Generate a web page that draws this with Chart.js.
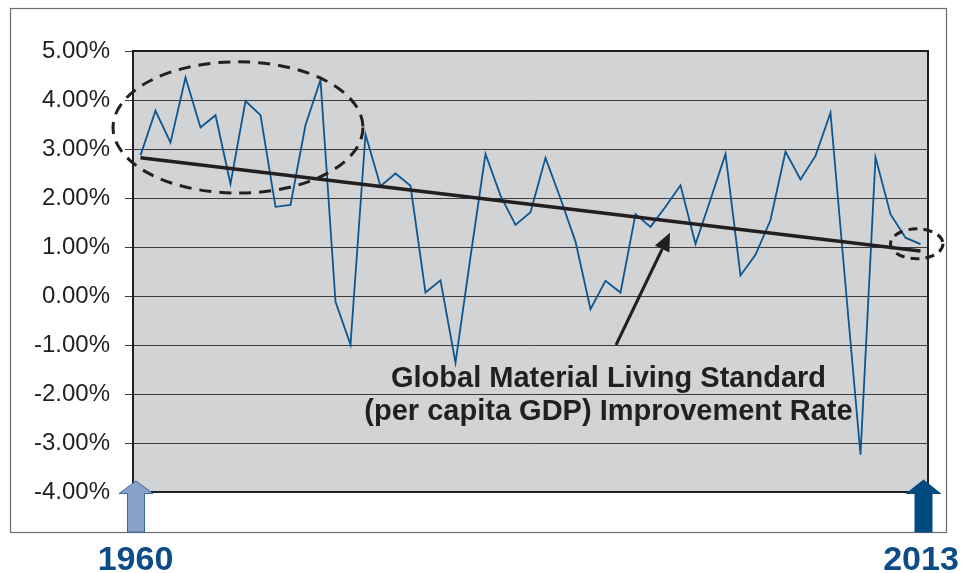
<!DOCTYPE html>
<html>
<head>
<meta charset="utf-8">
<script src="https://cdn.jsdelivr.net/npm/chart.js@4.4.0/dist/chart.umd.min.js"></script>
<style>
  html, body { margin: 0; padding: 0; background: #fff; }
  #wrap { width: 961px; height: 573px; position: relative; }
  canvas { display: block; }
</style>
</head>
<body>
<div id="wrap"><canvas id="growthChart" width="961" height="573"></canvas></div>
<script>
const years = [
  1961, 1962, 1963, 1964, 1965, 1966, 1967, 1968, 1969, 1970,
  1971, 1972, 1973, 1974, 1975, 1976, 1977, 1978, 1979, 1980,
  1981, 1982, 1983, 1984, 1985, 1986, 1987, 1988, 1989, 1990,
  1991, 1992, 1993, 1994, 1995, 1996, 1997, 1998, 1999, 2000,
  2001, 2002, 2003, 2004, 2005, 2006, 2007, 2008, 2009, 2010,
  2011, 2012, 2013
];

// world per capita GDP growth, %
const growth = [
  2.87, 3.78, 3.13, 4.46, 3.44, 3.69, 2.29, 3.98, 3.69, 1.82,
  1.86, 3.49, 4.41, -0.12, -0.99, 3.30, 2.24, 2.50, 2.25, 0.07,
  0.32, -1.36, 0.80, 2.90, 2.05, 1.45, 1.71, 2.82, 1.99, 1.11,
  -0.27, 0.31, 0.07, 1.67, 1.41, 1.82, 2.26, 1.06, 1.97, 2.90,
  0.42, 0.84, 1.55, 2.95, 2.38, 2.86, 3.74, 0.22, -3.24, 2.83,
  1.67, 1.19, 1.06
];

// long-run trend, first and last year
const trendStart = 2.82;
const trendEnd = 0.92;
const trend = years.map((y, i) => i === 0 ? trendStart : (i === years.length - 1 ? trendEnd : null));

const yTicks = [5, 4, 3, 2, 1, 0, -1, -2, -3, -4];

const captionLines = ['Global Material Living Standard', '(per capita GDP) Improvement Rate'];
const startLabel = '1960';
const endLabel = '2013';

const ink = '#231f20';
const FONT = "'Liberation Sans', Arial, sans-serif";

const plotBackground = {
  id: 'plotBackground',
  beforeDraw(chart) {
    const { ctx, chartArea: a } = chart;
    ctx.save();
    ctx.fillStyle = '#d1d3d4';
    ctx.fillRect(a.left, a.top, a.right - a.left, a.bottom - a.top);
    ctx.restore();
  }
};

function drawEllipse(ctx, xs, ys, box) {
  const l = xs.getPixelForValue(box.x0), r = xs.getPixelForValue(box.x1);
  const t = ys.getPixelForValue(box.y0), b = ys.getPixelForValue(box.y1);
  ctx.beginPath();
  ctx.ellipse((l + r) / 2, (t + b) / 2, (r - l) / 2, (b - t) / 2, 0, 0, Math.PI * 2);
  ctx.stroke();
}

function drawBlockArrow(ctx, cx, tipY, baseY, bottomY, fill, stroke) {
  ctx.beginPath();
  ctx.moveTo(cx, tipY);
  ctx.lineTo(cx + 17, baseY);
  ctx.lineTo(cx + 8.5, baseY);
  ctx.lineTo(cx + 8.5, bottomY);
  ctx.lineTo(cx - 8.5, bottomY);
  ctx.lineTo(cx - 8.5, baseY);
  ctx.lineTo(cx - 17, baseY);
  ctx.closePath();
  ctx.fillStyle = fill;
  ctx.fill();
  ctx.lineWidth = 1;
  ctx.strokeStyle = stroke;
  ctx.stroke();
}

const annotations = {
  id: 'annotations',
  afterDraw(chart) {
    const { ctx, chartArea: a } = chart;
    const xs = chart.scales.x, ys = chart.scales.y;
    ctx.save();

    // plot frame
    ctx.strokeStyle = ink;
    ctx.lineWidth = 2;
    ctx.strokeRect(a.left, a.top, a.right - a.left, a.bottom - a.top);

    // outer frame
    ctx.strokeStyle = '#6d6e71';
    ctx.lineWidth = 1.2;
    ctx.strokeRect(10.5, 8.5, 936, 524);

    // dashed rings around the early years and the latest years
    ctx.strokeStyle = ink;
    ctx.lineWidth = 3;
    ctx.setLineDash([12, 8]);
    drawEllipse(ctx, xs, ys, { x0: -1.83, x1: 14.83, y0: 4.78, y1: 2.10 });
    ctx.setLineDash([9, 6]);
    drawEllipse(ctx, xs, ys, { x0: 50.0, x1: 53.5, y0: 1.37, y1: 0.76 });
    ctx.setLineDash([]);

    // pointer from the caption to the trend line
    const x0 = xs.getPixelForValue(31.7), y0 = ys.getPixelForValue(-1.0);
    const x1 = xs.getPixelForValue(35.3), y1 = ys.getPixelForValue(1.29);
    const ang = Math.atan2(y1 - y0, x1 - x0);
    const head = 18, half = 8;
    const bx = x1 - head * Math.cos(ang), by = y1 - head * Math.sin(ang);
    ctx.beginPath();
    ctx.moveTo(x0, y0);
    ctx.lineTo(bx, by);
    ctx.lineWidth = 3;
    ctx.stroke();
    ctx.beginPath();
    ctx.moveTo(x1, y1);
    ctx.lineTo(bx + half * Math.sin(ang), by - half * Math.cos(ang));
    ctx.lineTo(bx - half * Math.sin(ang), by + half * Math.cos(ang));
    ctx.closePath();
    ctx.fillStyle = ink;
    ctx.fill();

    // caption
    ctx.fillStyle = ink;
    ctx.font = 'bold 29px ' + FONT;
    ctx.textAlign = 'center';
    ctx.textBaseline = 'alphabetic';
    const cx = xs.getPixelForValue(31.2);
    ctx.fillText(captionLines[0], cx, ys.getPixelForValue(-1.86));
    ctx.fillText(captionLines[1], cx, ys.getPixelForValue(-2.53));

    // start / end markers below the axis
    drawBlockArrow(ctx, a.left + 3, a.bottom - 11, a.bottom + 1.5, 532, '#8aa2c8', '#3b6a9e');
    drawBlockArrow(ctx, a.right - 4.5, a.bottom - 12, a.bottom + 1.5, 532, '#004a80', '#004a80');

    ctx.fillStyle = '#0d4c86';
    ctx.font = 'bold 34px ' + FONT;
    ctx.fillText(startLabel, a.left + 2.5, 570);
    ctx.fillText(endLabel, a.right - 7, 570);

    ctx.restore();
  }
};

new Chart(document.getElementById('growthChart'), {
  type: 'line',
  data: {
    labels: years,
    datasets: [
      {
        label: 'Trend',
        data: trend,
        borderColor: ink,
        borderWidth: 3.6,
        pointRadius: 0,
        spanGaps: true,
        order: 0
      },
      {
        label: 'Per capita GDP growth',
        data: growth,
        borderColor: '#0d5690',
        borderWidth: 1.8,
        pointRadius: 0,
        tension: 0,
        order: 1
      }
    ]
  },
  options: {
    responsive: false,
    animation: false,
    devicePixelRatio: 1,
    events: [],
    layout: { padding: { top: 51, right: 33, bottom: 81, left: 0 } },
    plugins: {
      legend: { display: false },
      tooltip: { enabled: false }
    },
    scales: {
      x: {
        type: 'category',
        offset: true,
        display: false
      },
      y: {
        min: -4,
        max: 5,
        afterFit: scale => { scale.width = 133; },
        afterBuildTicks: scale => { scale.ticks = yTicks.map(v => ({ value: v })); },
        grid: {
          color: '#3c3c3e',
          lineWidth: 1,
          tickLength: 8,
          drawTicks: true
        },
        border: { display: false },
        ticks: {
          padding: 15,
          color: ink,
          font: { family: FONT, size: 24 },
          callback: v => v.toFixed(2) + '%'
        }
      }
    }
  },
  plugins: [plotBackground, annotations]
});
</script>
</body>
</html>
